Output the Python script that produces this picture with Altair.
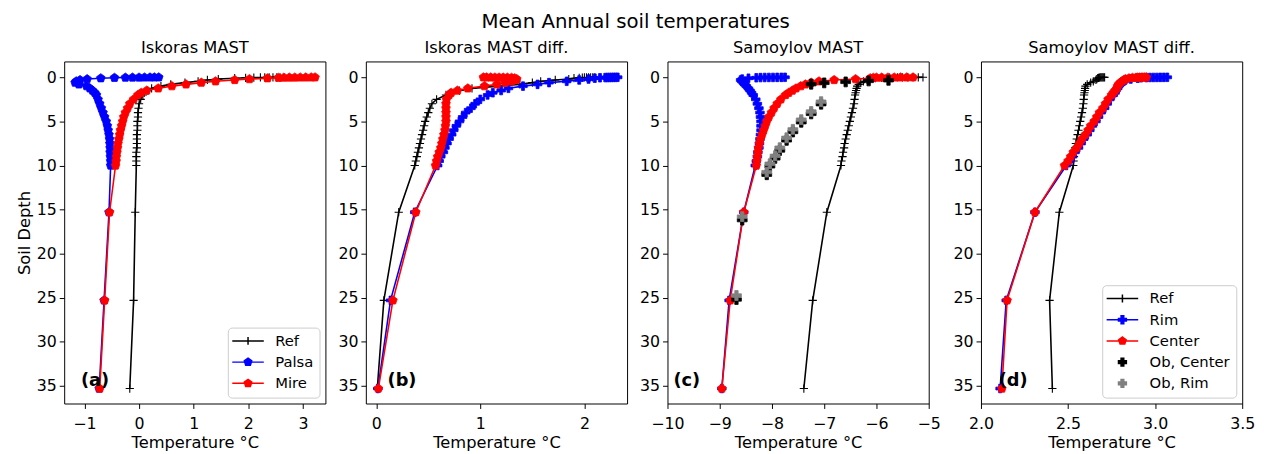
import altair as alt
import pandas as pd

# ---------------- data ----------------
DEPTH = [0.0, 0.004, 0.008, 0.012, 0.016, 0.02, 0.03, 0.05, 0.1, 0.2, 0.3, 0.45,
         0.6, 0.8, 1.0, 1.25, 1.5, 1.75, 2.0, 2.5, 3.0, 3.5, 4.0, 4.5, 5.0, 5.5,
         6.0, 6.5, 7.0, 7.5, 8.0, 8.5, 9.0, 9.5, 10.0, 15.3, 25.3, 35.3]

ISK_REF = [2.58, 2.52, 2.45, 2.38, 2.3, 2.22, 2.1, 1.95, 1.75, 1.45, 1.25, 1.08, 0.84, 0.58,
           0.4, 0.23, 0.16, 0.1, 0.07, 0.03, 0.0, -0.01, -0.02, -0.02, -0.03, -0.03, -0.03,
           -0.04, -0.04, -0.04, -0.04, -0.05, -0.05, -0.05, -0.05, -0.07, -0.1, -0.17]
ISK_PALSA = [0.36, 0.28, 0.2, 0.1, 0.0, -0.12, -0.25, -0.45, -0.7, -0.95, -1.08, -1.15, -1.17,
             -1.1, -0.96, -0.9, -0.85, -0.81, -0.78, -0.75, -0.72, -0.69, -0.66, -0.63, -0.6,
             -0.58, -0.565, -0.55, -0.54, -0.535, -0.53, -0.53, -0.525, -0.52, -0.52, -0.55,
             -0.64, -0.73]
ISK_MIRE = [3.22, 3.15, 3.05, 2.95, 2.85, 2.75, 2.65, 2.55, 2.35, 2.02, 1.75, 1.4, 1.14, 0.86,
            0.6, 0.35, 0.14, 0.04, -0.02, -0.1, -0.17, -0.21, -0.25, -0.28, -0.3, -0.32, -0.34,
            -0.355, -0.37, -0.385, -0.395, -0.405, -0.415, -0.42, -0.43, -0.54, -0.63, -0.72]

ISKD_REF = [2.1, 2.08, 2.06, 2.04, 2.02, 2.0, 1.98, 1.95, 1.9, 1.85, 1.72, 1.58, 1.5, 1.38,
            1.17, 0.92, 0.8, 0.71, 0.67, 0.58, 0.535, 0.515, 0.5, 0.485, 0.47, 0.46, 0.45,
            0.44, 0.43, 0.42, 0.41, 0.4, 0.39, 0.38, 0.37, 0.216, 0.073, 0.01]
ISKD_PALSA = [2.32, 2.3, 2.28, 2.26, 2.24, 2.22, 2.2, 2.15, 2.1, 2.04, 1.95, 1.83, 1.66, 1.55,
              1.41, 1.27, 1.2, 1.12, 1.07, 1.0, 0.95, 0.91, 0.86, 0.83, 0.8, 0.77, 0.745,
              0.725, 0.7, 0.68, 0.66, 0.645, 0.62, 0.605, 0.59, 0.37, 0.137, 0.016]
ISKD_MIRE = [1.03, 1.06, 1.1, 1.14, 1.18, 1.22, 1.26, 1.3, 1.33, 1.35, 1.34, 1.3, 1.24, 1.16,
             1.04, 0.88, 0.78, 0.72, 0.7, 0.675, 0.67, 0.67, 0.67, 0.67, 0.67, 0.665, 0.66,
             0.65, 0.64, 0.63, 0.62, 0.605, 0.59, 0.58, 0.57, 0.38, 0.16, 0.02]

SAM_REF = [-5.11, -5.2, -5.3, -5.4, -5.5, -5.6, -5.75, -5.9, -6.02, -6.12, -6.18, -6.25, -6.3,
           -6.34, -6.37, -6.38, -6.39, -6.4, -6.41, -6.42, -6.43, -6.45, -6.47, -6.49, -6.51,
           -6.53, -6.55, -6.57, -6.59, -6.61, -6.62, -6.64, -6.65, -6.67, -6.68, -6.95, -7.22,
           -7.39]
SAM_RIM = [-7.75, -7.82, -7.9, -7.98, -8.06, -8.14, -8.22, -8.3, -8.45, -8.57, -8.6, -8.58,
           -8.55, -8.52, -8.49, -8.45, -8.42, -8.39, -8.36, -8.31, -8.28, -8.25, -8.23, -8.22,
           -8.21, -8.21, -8.21, -8.22, -8.23, -8.24, -8.25, -8.27, -8.28, -8.3, -8.32, -8.54,
           -8.82, -8.96]
SAM_CENTER = [-5.3, -5.42, -5.54, -5.66, -5.78, -5.9, -6.0, -6.06, -6.12, -6.4, -6.81, -7.1,
              -7.25, -7.36, -7.45, -7.54, -7.61, -7.68, -7.74, -7.83, -7.9, -7.96, -8.01, -8.06,
              -8.1, -8.13, -8.16, -8.19, -8.22, -8.24, -8.26, -8.27, -8.28, -8.29, -8.3, -8.54,
              -8.8, -8.96]
OB_CENTER_T = [-5.77, -6.15, -6.59, -7.0, -7.25, -7.06, -7.25, -7.44, -7.6, -7.72, -7.85, -7.94,
               -8.04, -8.1, -8.57, -8.68]
OB_CENTER_D = [0.34, 0.41, 0.52, 0.63, 0.78, 3.05, 4.15, 5.1, 6.2, 7.15, 8.3, 9.2, 10.1, 11.05,
               16.2, 25.2]
OB_RIM_T = [-7.06, -7.25, -7.44, -7.6, -7.72, -7.85, -7.94, -8.04, -8.1, -8.57, -8.68]
OB_RIM_D = [2.76, 3.88, 4.8, 5.9, 6.86, 7.98, 8.9, 9.8, 10.75, 15.8, 24.75]

SAMD_REF = [2.71, 2.705, 2.7, 2.695, 2.69, 2.685, 2.68, 2.675, 2.67, 2.665, 2.66, 2.645, 2.63,
            2.61, 2.6, 2.598, 2.596, 2.594, 2.592, 2.59, 2.588, 2.585, 2.58, 2.575, 2.57, 2.565,
            2.56, 2.555, 2.55, 2.545, 2.54, 2.537, 2.534, 2.532, 2.53, 2.45, 2.394, 2.41]
SAMD_RIM = [3.07, 3.05, 3.03, 3.01, 2.99, 2.97, 2.95, 2.92, 2.9, 2.86, 2.83, 2.82, 2.81, 2.8,
            2.79, 2.785, 2.775, 2.77, 2.76, 2.74, 2.725, 2.71, 2.69, 2.675, 2.66, 2.64, 2.625,
            2.61, 2.59, 2.575, 2.56, 2.54, 2.525, 2.51, 2.49, 2.31, 2.145, 2.11]
SAMD_CENTER = [2.95, 2.94, 2.93, 2.92, 2.91, 2.9, 2.89, 2.87, 2.85, 2.83, 2.82, 2.81, 2.8, 2.79,
               2.785, 2.78, 2.77, 2.76, 2.75, 2.73, 2.715, 2.7, 2.68, 2.665, 2.65, 2.63, 2.615,
               2.6, 2.58, 2.565, 2.55, 2.53, 2.515, 2.5, 2.48, 2.31, 2.15, 2.12]

TITLES = ["Iskoras MAST", "Iskoras MAST diff.", "Samoylov MAST", "Samoylov MAST diff."]
TAGS = ["(a)", "(b)", "(c)", "(d)"]
X_DOMAINS = [[-1.37, 3.41], [-0.1, 2.41], [-10, -5], [2.0, 3.5]]
X_TICKS = [[-1, 0, 1, 2, 3], [0, 1, 2], [-10, -9, -8, -7, -6, -5], [2.0, 2.5, 3.0, 3.5]]
X_FORMATS = ["d", "d", "d", ".1f"]
Y_TICKS = [0, 5, 10, 15, 20, 25, 30, 35]
ISK_LABELS = ["Ref", "Palsa", "Mire"]
SAM_LABELS = ["Ref", "Rim", "Center", "Ob, Center", "Ob, Rim"]

# ---------------- styling ----------------
FONT = "DejaVu Sans"
BLACK, BLUE, RED, GRAY = "#000000", "#0000ff", "#ff0000", "#808080"
PLUS_THIN = "M-1,0H1M0,-1V1"
PLUS_FILL = "M-0.34,-1H0.34V-0.34H1V0.34H0.34V1H-0.34V0.34H-1V-0.34H-0.34Z"
PENTA = "M0,-1L0.951,-0.309L0.588,0.809L-0.588,0.809L-0.951,-0.309Z"
LINE = "M-4,0H4"


def series_layers(temps, depths, color, shape, size, filled, x, y, line=True):
    df = pd.DataFrame({"temp": temps, "depth": depths[:len(temps)],
                       "idx": list(range(len(temps)))})
    out = []
    if line:
        out.append(alt.Chart(df).mark_line(color=color, strokeWidth=1.6).encode(
            x=x, y=y, order="idx:Q"))
    if filled:
        pts = alt.Chart(df).mark_point(shape=shape, size=size, filled=True, fill=color,
                                       stroke=color, strokeWidth=0.8, opacity=1)
    else:
        pts = alt.Chart(df).mark_point(shape=shape, size=size, filled=False, stroke=color,
                                       strokeWidth=1.1, opacity=1)
    out.append(pts.encode(x=x, y=y))
    return out


def legend_layer(labels, colors, shapes):
    df = pd.DataFrame({"label": labels})
    leg = alt.Legend(title=None, orient="bottom-right", offset=6, padding=6,
                     fillColor="rgba(255,255,255,0.8)", strokeColor="#cccccc",
                     cornerRadius=4, labelFont=FONT, labelFontSize=15, labelColor="black",
                     symbolSize=64, symbolStrokeWidth=1.5, symbolOffset=7, labelOffset=20,
                     rowPadding=5.5, symbolOpacity=1)
    return alt.Chart(df).transform_filter("false").mark_point(
        size=64, strokeWidth=1.5, opacity=1).encode(
        fill=alt.Fill("label:N", scale=alt.Scale(domain=labels, range=colors), legend=leg),
        stroke=alt.Stroke("label:N", scale=alt.Scale(domain=labels, range=colors), legend=leg),
        shape=alt.Shape("label:N", scale=alt.Scale(domain=labels, range=shapes), legend=leg),
    )


def panel(i, series, ylabel, tag_dx, legend=None, extra=None):
    x = alt.X("temp:Q",
              scale=alt.Scale(domain=X_DOMAINS[i], nice=False, zero=False),
              axis=alt.Axis(values=X_TICKS[i], format=X_FORMATS[i], title="Temperature °C"))
    y = alt.Y("depth:Q",
              scale=alt.Scale(domain=[-1.8, 37], nice=False, zero=False, reverse=True),
              axis=alt.Axis(values=Y_TICKS, format="d", title=ylabel))
    layers = []
    for temps, color, shape, size, filled in series:
        layers += series_layers(temps, DEPTH, color, shape, size, filled, x, y)
    if extra:
        for temps, depths, color in extra:
            layers += series_layers(temps, depths, color, PLUS_FILL, 100, True, x, y, line=False)
    tag = alt.Chart(pd.DataFrame({"t": [TAGS[i]]})).mark_text(
        font=FONT, fontSize=18, fontWeight="bold", align="left", baseline="alphabetic",
        color="black").encode(text="t:N", x=alt.value(tag_dx), y=alt.value(329))
    layers.append(tag)
    if legend is not None:
        layers.append(legend)
    return alt.layer(*layers).properties(
        width=265, height=347,
        title=alt.TitleParams(TITLES[i], font=FONT, fontSize=16.5, fontWeight="normal",
                              color="black", offset=5, frame="group", anchor="middle"))


pa = panel(0, [(ISK_REF, BLACK, PLUS_THIN, 70, False),
               (ISK_PALSA, BLUE, PENTA, 85, True),
               (ISK_MIRE, RED, PENTA, 85, True)],
           "Soil Depth", 17,
           legend=legend_layer(ISK_LABELS, [BLACK, BLUE, RED],
                               [LINE + PLUS_THIN, LINE + PENTA, LINE + PENTA]))
pb = panel(1, [(ISKD_REF, BLACK, PLUS_THIN, 70, False),
               (ISKD_PALSA, BLUE, PLUS_FILL, 75, True),
               (ISKD_MIRE, RED, PENTA, 85, True)],
           None, 22)
pc = panel(2, [(SAM_REF, BLACK, PLUS_THIN, 70, False),
               (SAM_RIM, BLUE, PLUS_FILL, 75, True),
               (SAM_CENTER, RED, PENTA, 85, True)],
           None, 6,
           extra=[(OB_CENTER_T, OB_CENTER_D, BLACK), (OB_RIM_T, OB_RIM_D, GRAY)])
pd_ = panel(3, [(SAMD_REF, BLACK, PLUS_THIN, 70, False),
                (SAMD_RIM, BLUE, PLUS_FILL, 75, True),
                (SAMD_CENTER, RED, PENTA, 85, True)],
            None, 18,
            legend=legend_layer(SAM_LABELS, [BLACK, BLUE, RED, BLACK, GRAY],
                                [LINE + PLUS_THIN, LINE + PLUS_FILL, LINE + PENTA,
                                 PLUS_FILL, PLUS_FILL]))

chart = alt.hconcat(pa, pb, pc, pd_, spacing=11).resolve_scale(
    fill="independent", stroke="independent", shape="independent",
    x="independent", y="independent",
).resolve_legend(
    fill="independent", stroke="independent", shape="independent",
).properties(
    title=alt.TitleParams("Mean Annual soil temperatures", font=FONT, fontSize=20,
                          fontWeight="normal", color="black", anchor="middle", offset=8),
    padding={"left": 8, "top": 1, "right": 0, "bottom": 0},
).configure_view(stroke="black", strokeWidth=1).configure_axis(
    labelFont=FONT, labelFontSize=16, labelColor="black",
    titleFont=FONT, titleFontSize=16.5, titleColor="black", titleFontWeight="normal",
    tickColor="black", tickSize=5, tickWidth=1, labelPadding=3, titlePadding=4,
    grid=False, domain=False, labelFlush=False, labelOverlap=False,
).configure_axisX(labelPadding=7, titlePadding=4).configure_legend(symbolOpacity=1)

chart.save("out.html", embed_options={"renderer": "svg", "actions": False})
